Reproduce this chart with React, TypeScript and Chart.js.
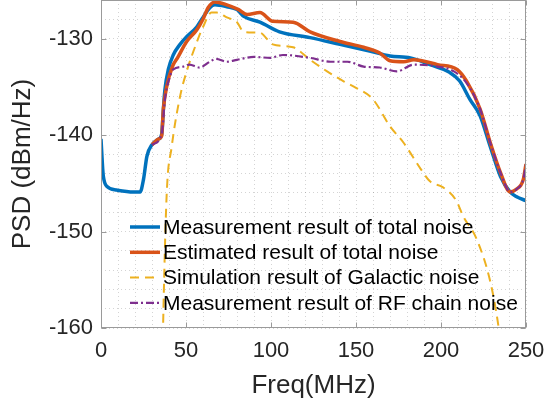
import React, { useEffect, useRef } from "react";
import { Chart, registerables } from "chart.js";

Chart.register(...registerables);

// Frequency (MHz) / PSD (dBm/Hz) samples
const blueF = [0, 0.5, 1, 1.4, 3.3, 9.2, 19, 23, 25, 27, 30, 34, 35.7, 36.7, 37.6, 39.6, 42.5, 46.5, 50.4, 56.3, 60, 64, 67, 74, 80, 84, 93.5, 105, 123, 140.6, 158, 170, 182, 193.5, 205, 211, 217, 223, 229, 235, 240.6, 244.5, 250];
const blueV = [-140.4, -142, -143.5, -144.3, -145.3, -145.7, -145.9, -145.9, -144.6, -142.2, -141, -140.4, -139.9, -137.3, -135.3, -133.2, -131.7, -130.6, -129.8, -128.8, -127.8, -126.8, -126.5, -126.7, -127, -127.7, -128.3, -129.3, -129.9, -130.6, -131.3, -131.8, -132, -132.7, -133.5, -134.4, -136.3, -138, -141.2, -144.3, -145.9, -146.4, -146.8];

const orangeF = [30, 34, 35.7, 36.7, 38.6, 42, 45, 50.4, 56.3, 60, 63, 67, 74, 81, 86, 93.5, 101, 113, 123, 140.6, 154.5, 164, 170, 178, 184, 198, 209.4, 215, 223, 229, 235, 240.6, 244.5, 248.4, 250];
const orangeV = [-141, -140.4, -140.1, -137.3, -135, -132.9, -132, -130.3, -129.1, -128, -126.8, -126.2, -126.5, -127, -127.5, -127.3, -128.2, -128.3, -129.3, -130.3, -130.9, -131.5, -132.3, -132.4, -132.2, -132.7, -133.2, -134.4, -137.3, -140.8, -143.9, -145.9, -145.6, -144.6, -143];

const yellowF = [35, 36.5, 38.6, 41.6, 46.5, 50.4, 56.3, 60, 65, 68, 74, 80, 84, 93.5, 101, 113, 123, 133, 142.5, 150, 160, 170, 178, 188, 193.5, 201, 209, 213, 221, 229, 233.7, 236];
const yellowV = [-175, -160, -146.3, -141.2, -136, -133.4, -130.4, -128.8, -127.3, -127.3, -127.8, -128.3, -129.3, -129.4, -130.6, -130.9, -132.2, -133.4, -134.4, -135.1, -136.3, -139.1, -140.8, -143.5, -144.8, -145.4, -146.8, -148.4, -150.8, -155.2, -159.7, -163];

const purpleF = [30, 35.7, 37.6, 41, 42.5, 48.4, 52, 58, 64, 67.6, 74, 80, 90, 99.6, 107, 123, 135, 145, 154.5, 164, 174, 184, 198, 207.6, 215, 223, 229, 235, 240.6, 244.5, 248.4, 250];
const purpleV = [-141, -139.9, -136.3, -133.7, -133.2, -132.9, -132.7, -133, -132.4, -132.1, -132.4, -132.2, -131.9, -132, -131.7, -132, -132.4, -132.4, -132.9, -133, -133.4, -132.7, -132.9, -133.4, -134.6, -137.3, -140.8, -143.9, -145.9, -145.6, -144.6, -143];

const seriesLabels = [
  "Measurement result of total noise",
  "Estimated result of total noise",
  "Simulation result of Galactic noise",
  "Measurement result of RF chain noise",
];

const xTitle = "Freq(MHz)";
const yTitle = "PSD (dBm/Hz)";

const FONT = "'Liberation Sans', Arial, Helvetica, sans-serif";
const TEXT = "#262626";
const AXIS = "#9a9a9a";

const pts = (xs: number[], ys: number[]) => xs.map((x, i) => ({ x, y: ys[i] }));

const framePlugin = {
  id: "frame",
  afterDatasetsDraw(chart: any) {
    const { ctx, chartArea: a, scales } = chart;
    const xs = scales.x;
    const ys = scales.y;
    ctx.save();
    ctx.strokeStyle = AXIS;
    ctx.lineWidth = 1;
    ctx.setLineDash([]);
    const L = Math.round(a.left) + 0.5;
    const R = Math.round(a.right) - 0.5;
    const T = Math.round(a.top) + 0.5;
    const B = Math.round(a.bottom) - 0.5;
    ctx.strokeRect(L, T, R - L, B - T);
    const tl = 5;
    ctx.beginPath();
    for (let v = 0; v <= 250; v += 50) {
      const px = Math.round(xs.getPixelForValue(v)) + 0.5;
      ctx.moveTo(px, B);
      ctx.lineTo(px, B - tl);
      ctx.moveTo(px, T);
      ctx.lineTo(px, T + tl);
    }
    for (let v = -160; v <= -130; v += 10) {
      const py = Math.round(ys.getPixelForValue(v)) + 0.5;
      ctx.moveTo(L, py);
      ctx.lineTo(L + tl, py);
      ctx.moveTo(R, py);
      ctx.lineTo(R - tl, py);
    }
    ctx.stroke();

    // legend (inside axes, no box)
    const lx0 = a.left + 29;
    const lx1 = a.left + 59;
    const tx = a.left + 62;
    const y0 = a.bottom - 101;
    const dy = 25.3;
    ctx.font = `21px ${FONT}`;
    ctx.textBaseline = "middle";
    ctx.textAlign = "left";
    chart.data.datasets.forEach((ds: any, i: number) => {
      const y = y0 + i * dy;
      ctx.save();
      ctx.strokeStyle = ds.borderColor;
      ctx.lineWidth = ds.borderWidth;
      ctx.setLineDash(ds.borderDash || []);
      ctx.beginPath();
      ctx.moveTo(lx0, y);
      ctx.lineTo(lx1, y);
      ctx.stroke();
      ctx.restore();
      ctx.fillStyle = "#000";
      ctx.fillText(ds.label, tx, y + 1);
    });
    ctx.restore();
  },
};

export default function App() {
  const ref = useRef<HTMLCanvasElement | null>(null);
  useEffect(() => {
    if (!ref.current) return;
    const chart = new Chart(ref.current, {
      type: "line",
      data: {
        datasets: [
          {
            label: seriesLabels[0],
            data: pts(blueF, blueV),
            borderColor: "#0072BD",
            borderWidth: 3.5,
            order: 4,
          },
          {
            label: seriesLabels[1],
            data: pts(orangeF, orangeV),
            borderColor: "#D95319",
            borderWidth: 3.5,
            order: 3,
          },
          {
            label: seriesLabels[2],
            data: pts(yellowF, yellowV),
            borderColor: "#EDB120",
            borderWidth: 2,
            borderDash: [9, 6],
            order: 2,
          },
          {
            label: seriesLabels[3],
            data: pts(purpleF, purpleV),
            borderColor: "#7E2F8E",
            borderWidth: 2.2,
            borderDash: [8, 3, 2, 3],
            order: 1,
          },
        ] as any,
      },
      options: {
        animation: false,
        responsive: false,
        parsing: true,
        layout: { padding: { left: 0, right: 22, top: 0, bottom: 0 } },
        elements: {
          point: { radius: 0 },
          line: { cubicInterpolationMode: "monotone", fill: false },
        },
        plugins: {
          legend: { display: false },
          tooltip: { enabled: false },
        },
        scales: {
          x: {
            type: "linear",
            min: 0,
            max: 250,
            afterFit: (s: any) => {
              s.height = 83;
              s.paddingLeft = 0;
              s.paddingRight = 0;
            },
            ticks: {
              stepSize: 10,
              autoSkip: false,
              maxRotation: 0,
              padding: 10,
              color: TEXT,
              font: { family: FONT, size: 22 },
              callback: (v: any) => (Number(v) % 50 === 0 ? String(v) : ""),
            },
            grid: {
              drawTicks: false,
              color: "rgba(0,0,0,0.17)",
              lineWidth: 1,
            },
            border: { display: false, dash: [1, 3] },
            title: {
              display: true,
              text: xTitle,
              color: TEXT,
              font: { family: FONT, size: 26 },
              padding: { top: 0, bottom: 10 },
            },
          },
          y: {
            type: "linear",
            min: -160,
            max: -126,
            afterFit: (s: any) => {
              s.width = 101;
              s.paddingTop = 0;
              s.paddingBottom = 0;
            },
            ticks: {
              stepSize: 2,
              autoSkip: false,
              padding: 8,
              color: TEXT,
              font: { family: FONT, size: 22 },
              callback: (v: any) => (Number(v) % 10 === 0 ? String(v) : ""),
            },
            grid: {
              drawTicks: false,
              color: "rgba(0,0,0,0.17)",
              lineWidth: 1,
            },
            border: { display: false, dash: [1, 3] },
            title: {
              display: true,
              text: yTitle,
              color: TEXT,
              font: { family: FONT, size: 26 },
              padding: { top: 7, bottom: 0 },
            },
          },
        },
      },
      plugins: [framePlugin],
    } as any);
    return () => chart.destroy();
  }, []);
  return (
    <div style={{ position: "absolute", left: 0, top: 0, width: 548, height: 411, background: "#fff" }}>
      <canvas ref={ref} width={548} height={411} style={{ display: "block" }} />
    </div>
  );
}
